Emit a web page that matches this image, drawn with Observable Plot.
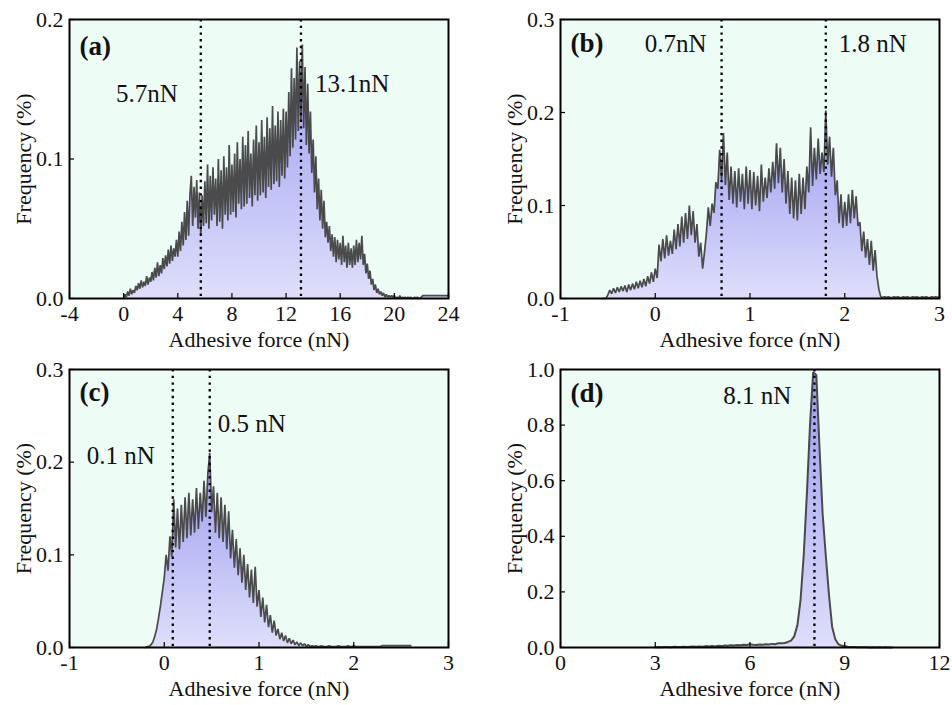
<!DOCTYPE html>
<html>
<head>
<meta charset="utf-8">
<script src="https://cdn.jsdelivr.net/npm/d3@7"></script>
<script src="https://cdn.jsdelivr.net/npm/@observablehq/plot@0.6"></script>
<style>
  html, body { margin: 0; padding: 0; background: #ffffff; }
  #wrap { position: relative; width: 952px; height: 705px; background: #ffffff; overflow: hidden; }
  #wrap svg { position: absolute; overflow: visible; }
</style>
</head>
<body>
<div id="wrap"></div>
<script>
// ---------- Panel (a) ----------
const aStart = 0, aStep = 0.1;
const aFreq = [
  0.000,0.003,0.001,0.005,0.002,0.007,0.003,0.006,0.004,0.009,
  0.006,0.011,0.007,0.013,0.008,0.012,0.009,0.016,0.010,0.015,
  0.012,0.019,0.013,0.022,0.015,0.026,0.016,0.024,0.018,0.029,
  0.021,0.031,0.023,0.035,0.025,0.038,0.027,0.036,0.030,0.042,
  0.030,0.048,0.034,0.055,0.038,0.062,0.042,0.070,0.045,0.074,
  0.088,0.052,0.080,0.058,0.085,0.050,0.076,0.045,0.074,0.052,
  0.084,0.054,0.096,0.050,0.088,0.056,0.094,0.060,0.086,0.052,
  0.100,0.055,0.092,0.050,0.102,0.060,0.094,0.056,0.110,0.060,
  0.096,0.062,0.104,0.058,0.112,0.068,0.100,0.064,0.116,0.066,
  0.110,0.068,0.120,0.072,0.104,0.066,0.114,0.074,0.124,0.070,
  0.112,0.074,0.128,0.076,0.116,0.072,0.130,0.080,0.122,0.078,
  0.138,0.082,0.124,0.084,0.134,0.080,0.128,0.088,0.136,0.086,
  0.134,0.094,0.148,0.102,0.165,0.108,0.158,0.114,0.180,0.120,
  0.170,0.128,0.182,0.122,0.166,0.110,0.154,0.104,0.134,0.090,
  0.114,0.076,0.102,0.064,0.086,0.056,0.078,0.050,0.070,0.044,
  0.055,0.040,0.052,0.034,0.046,0.030,0.044,0.026,0.042,0.028,
  0.040,0.024,0.045,0.026,0.038,0.022,0.040,0.024,0.036,0.022,
  0.038,0.024,0.042,0.026,0.040,0.028,0.045,0.024,0.032,0.018,
  0.025,0.014,0.020,0.010,0.014,0.006,0.010,0.004,0.007,0.003,
  0.005,0.002,0.004,0.001,0.003,0.001,0.002,0.001,0.002,0.001,
  0.002,0.000,0.001,0.000,0.002,0.000,0.001,0.000,0.001,0.000,
  0.001,0.000,0.001,0.000,0.000,0.001,0.000,0.001,0.000,0.000,
  0.001,0.002,0.002,0.002,0.002,0.002,0.002,0.002,0.002,0.002,
  0.002,0.002,0.002,0.002,0.002,0.002,0.002,0.002,0.002,0.002,
  0.002
];
const aXTicks = [-4, 0, 4, 8, 12, 16, 20, 24];
const aYTicks = [0.0, 0.1, 0.2];
const aPeaks = [5.7, 13.1];
const aPeakLabels = ["5.7nN", "13.1nN"];

// ---------- Panel (b) ----------
const bStart = -0.56, bStep = 0.02;
const bFreq = [
  0.000,0.000,0.000,0.004,0.009,0.005,0.011,0.006,0.012,0.007,
  0.013,0.008,0.014,0.007,0.015,0.009,0.016,0.010,0.018,0.011,
  0.019,0.012,0.021,0.013,0.024,0.016,0.028,0.018,0.032,0.022,
  0.058,0.040,0.064,0.043,0.068,0.046,0.062,0.048,0.074,0.053,
  0.080,0.056,0.088,0.060,0.092,0.064,0.100,0.068,0.094,0.060,
  0.080,0.045,0.060,0.032,0.050,0.070,0.098,0.078,0.102,0.092,
  0.125,0.118,0.160,0.128,0.178,0.122,0.157,0.106,0.142,0.102,
  0.137,0.098,0.140,0.104,0.134,0.096,0.142,0.102,0.138,0.096,
  0.136,0.100,0.132,0.094,0.144,0.104,0.130,0.108,0.140,0.114,
  0.147,0.118,0.167,0.124,0.162,0.114,0.150,0.102,0.137,0.091,
  0.130,0.086,0.127,0.084,0.134,0.091,0.130,0.096,0.142,0.114,
  0.184,0.121,0.162,0.128,0.172,0.134,0.157,0.136,0.202,0.144,
  0.174,0.131,0.162,0.111,0.127,0.081,0.112,0.076,0.104,0.078,
  0.112,0.081,0.117,0.086,0.110,0.078,0.082,0.051,0.072,0.044,
  0.064,0.036,0.062,0.030,0.052,0.024,0.010,0.002,0.001,0.002,
  0.001,0.002,0.001,0.001,0.002,0.001,0.002,0.001,0.001,0.002,
  0.001,0.002,0.001,0.001,0.002,0.001,0.002,0.001,0.001,0.002,
  0.001,0.002,0.001,0.001,0.002,0.001,0.002,0.001,0.002
];
const bXTicks = [-1, 0, 1, 2, 3];
const bYTicks = [0.0, 0.1, 0.2, 0.3];
const bPeaks = [0.7, 1.8];
const bPeakLabels = ["0.7nN", "1.8 nN"];

// ---------- Panel (c) ----------
const cStart = -0.20, cStep = 0.02;
const cFreq = [
  0.000,0.001,0.001,0.003,0.006,0.012,0.020,0.032,0.045,0.060,
  0.075,0.100,0.083,0.120,0.098,0.160,0.108,0.150,0.106,0.154,
  0.114,0.162,0.118,0.167,0.121,0.160,0.124,0.172,0.128,0.167,
  0.136,0.180,0.141,0.187,0.210,0.146,0.174,0.124,0.167,0.118,
  0.162,0.114,0.154,0.106,0.147,0.096,0.127,0.086,0.117,0.078,
  0.107,0.070,0.100,0.062,0.090,0.054,0.084,0.048,0.087,0.044,
  0.062,0.033,0.054,0.027,0.046,0.022,0.035,0.016,0.029,0.013,
  0.020,0.009,0.016,0.007,0.013,0.005,0.010,0.004,0.008,0.003,
  0.006,0.002,0.005,0.002,0.004,0.001,0.003,0.001,0.002,0.001,
  0.002,0.001,0.001,0.002,0.001,0.001,0.001,0.002,0.001,0.001,
  0.001,0.001,0.002,0.001,0.001,0.001,0.001,0.002,0.001,0.001,
  0.002,0.001,0.001,0.001,0.001,0.001,0.001,0.001,0.001,0.001,
  0.001,0.001,0.001,0.001,0.001,0.002,0.002,0.002,0.002,0.002,
  0.002,0.002,0.002,0.002,0.002,0.002,0.002,0.002,0.002,0.002,
  0.002
];
const cXTicks = [-1, 0, 1, 2, 3];
const cYTicks = [0.0, 0.1, 0.2, 0.3];
const cPeaks = [0.09, 0.48];
const cPeakLabels = ["0.1 nN", "0.5 nN"];

// ---------- Panel (d) ----------
const dStart = 3.0, dStep = 0.1;
const dFreq = [
  0.001,0.002,0.001,0.002,0.002,0.001,0.003,0.002,0.002,0.003,
  0.002,0.003,0.004,0.003,0.004,0.003,0.005,0.004,0.005,0.004,
  0.006,0.005,0.007,0.006,0.008,0.007,0.009,0.008,0.010,0.009,
  0.012,0.010,0.009,0.011,0.010,0.012,0.011,0.013,0.012,0.015,
  0.015,0.016,0.020,0.025,0.040,0.080,0.170,0.330,0.550,0.800,
  0.990,0.980,0.720,0.480,0.330,0.190,0.075,0.030,0.012,0.006,
  0.005,0.003,0.002,0.002,0.001,0.001,0.001,0.001,0.000,0.001,
  0.000,0.001,0.000,0.001,0.000,0.000
];
const dXTicks = [0, 3, 6, 9, 12];
const dYTicks = [0.0, 0.2, 0.4, 0.6, 0.8, 1.0];
const dPeaks = [8.04];
const dPeakLabels = ["8.1 nN"];

const xLabel = "Adhesive force (nN)";
const yLabel = "Frequency (%)";

// ---------- drawing ----------
const FONT = "'Liberation Serif', 'Times New Roman', serif";
const BG = "#eefcf6";
const LINE = "#424242";

function toRows(start, step, values) {
  return values.map((y, i) => ({x: +(start + i * step).toFixed(4), y}));
}

function panel(cfg) {
  const rows = toRows(cfg.start, cfg.step, cfg.values);
  const gid = "grad-" + cfg.tag;
  const marks = [
    Plot.frame({fill: BG}),
    Plot.areaY(rows, {x: "x", y: "y", fill: `url(#${gid})`}),
    Plot.lineY(rows, {x: "x", y: "y", stroke: LINE, strokeWidth: cfg.lw, strokeOpacity: 0.95, strokeLinejoin: "miter"}),
    Plot.ruleX(cfg.peaks, {stroke: "#000", strokeWidth: 2.3, strokeDasharray: "2.4,4.3"}),
    Plot.axisX({ticks: cfg.xTicks, tickSize: -5, tickPadding: 12, tickFormat: d => String(d), label: null, stroke: "#000", strokeWidth: 1.2}),
    Plot.axisY({ticks: cfg.yTicks, tickSize: -5, tickPadding: 11, tickFormat: d3.format(".1f"), label: null, stroke: "#000", strokeWidth: 1.2}),
    Plot.frame({stroke: "#000", strokeWidth: 2}),
    Plot.text([xLabel], {frameAnchor: "bottom", dy: 41, lineAnchor: "middle", textAnchor: "middle", fill: "#111"}),
    Plot.text([yLabel], {frameAnchor: "left", dx: -46, rotate: -90, lineAnchor: "middle", textAnchor: "middle", fill: "#111"}),
    Plot.text([cfg.tagLabel], {frameAnchor: "top-left", dx: 10, dy: cfg.tagDy, textAnchor: "start", lineAnchor: "middle", fontWeight: "bold", fontSize: 27, fill: "#111"})
  ];
  cfg.peaks.forEach((p, i) => {
    const a = cfg.ann[i];
    marks.push(Plot.text([cfg.peakLabels[i]], {x: () => p, frameAnchor: "top", dx: a.dx, dy: a.dy, textAnchor: a.anchor, lineAnchor: "middle", fontSize: 25, fill: "#111"}));
  });
  const svg = Plot.plot({
    width: 476,
    height: cfg.height,
    marginLeft: cfg.ml, marginRight: cfg.mr, marginTop: cfg.mt, marginBottom: cfg.mb,
    style: {fontFamily: FONT, fontSize: "22px", color: "#111", background: "transparent", overflow: "visible"},
    x: {domain: cfg.xDomain, label: null},
    y: {domain: cfg.yDomain, label: null},
    marks
  });
  const ns = "http://www.w3.org/2000/svg";
  const defs = document.createElementNS(ns, "defs");
  const lg = document.createElementNS(ns, "linearGradient");
  lg.setAttribute("id", gid);
  lg.setAttribute("x1", "0"); lg.setAttribute("y1", "0");
  lg.setAttribute("x2", "0"); lg.setAttribute("y2", "1");
  [["0", "#9a9af0"], ["1", "#dedefb"]].forEach(([o, c]) => {
    const s = document.createElementNS(ns, "stop");
    s.setAttribute("offset", o); s.setAttribute("stop-color", c);
    lg.appendChild(s);
  });
  defs.appendChild(lg);
  svg.insertBefore(defs, svg.firstChild);
  svg.style.left = cfg.left + "px";
  svg.style.top = cfg.top + "px";
  document.getElementById("wrap").appendChild(svg);
}

panel({tag: "a", tagLabel: "(a)", tagDy: 27, start: aStart, step: aStep, values: aFreq, lw: 1.7,
  xDomain: [-4, 24], yDomain: [0, 0.2], xTicks: aXTicks, yTicks: aYTicks,
  peaks: aPeaks, peakLabels: aPeakLabels,
  ann: [{dx: -23, dy: 74, anchor: "end"}, {dx: 14, dy: 64, anchor: "start"}],
  left: 0, top: 0, height: 352, ml: 69, mr: 28, mt: 19, mb: 54});

panel({tag: "b", tagLabel: "(b)", tagDy: 24, start: bStart, step: bStep, values: bFreq, lw: 1.7,
  xDomain: [-1, 3], yDomain: [0, 0.3], xTicks: bXTicks, yTicks: bYTicks,
  peaks: bPeaks, peakLabels: bPeakLabels,
  ann: [{dx: -15, dy: 24, anchor: "end"}, {dx: 13, dy: 24, anchor: "start"}],
  left: 476, top: 0, height: 352, ml: 84, mr: 13, mt: 19, mb: 54});

panel({tag: "c", tagLabel: "(c)", tagDy: 23, start: cStart, step: cStep, values: cFreq, lw: 1.7,
  xDomain: [-1, 3], yDomain: [0, 0.3], xTicks: cXTicks, yTicks: cYTicks,
  peaks: cPeaks, peakLabels: cPeakLabels,
  ann: [{dx: -18, dy: 86, anchor: "end"}, {dx: 8, dy: 54, anchor: "start"}],
  left: 0, top: 352, height: 353, ml: 69, mr: 28, mt: 17, mb: 58});

panel({tag: "d", tagLabel: "(d)", tagDy: 24, start: dStart, step: dStep, values: dFreq, lw: 2,
  xDomain: [0, 12], yDomain: [0, 1.0], xTicks: dXTicks, yTicks: dYTicks,
  peaks: dPeaks, peakLabels: dPeakLabels,
  ann: [{dx: -23, dy: 26, anchor: "end"}],
  left: 476, top: 352, height: 353, ml: 84, mr: 13, mt: 17, mb: 58});
</script>
</body>
</html>
